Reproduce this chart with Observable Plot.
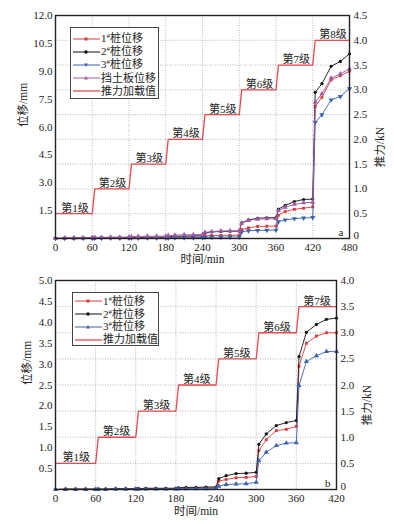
<!DOCTYPE html>
<html><head><meta charset="utf-8">
<script src="https://cdn.jsdelivr.net/npm/d3@7"></script>
<script src="https://cdn.jsdelivr.net/npm/@observablehq/plot@0.6"></script>
<style>
body{margin:0;background:#fff;font-family:"Liberation Serif","Noto Sans CJK SC",serif;color:#222;}
#wrap{position:relative;width:394px;height:524px;overflow:hidden;}
#wrap svg{display:block;}
.legend{position:absolute;border:1px solid #444;background:#fff;font-size:11px;line-height:1;box-sizing:border-box;}
.legend .row{display:flex;align-items:center;white-space:nowrap;}
.legend svg{flex:none;margin-right:1px;}
.legend sup{font-size:7px;vertical-align:4px;}
</style></head><body><div id="wrap"></div>
<script>
// ---------- Panel a data ----------
const timesA = [0,15,30,45,60, 64,75,90,105,120, 124,135,150,165,180, 184,195,210,225,240, 244,255,270,285,300, 304,315,330,345,360, 364,375,390,405,420, 424,435,450,465,480];
const pile1A = [0,0.01,0.01,0.02,0.02, 0.02,0.03,0.03,0.03,0.03, 0.04,0.04,0.05,0.05,0.05, 0.06,0.07,0.08,0.08,0.08, 0.14,0.16,0.17,0.17,0.18, 0.48,0.57,0.65,0.66,0.67, 1.25,1.45,1.57,1.63,1.7, 7.1,7.6,8.54,8.76,9.0];
const pile2A = [0,0.02,0.02,0.03,0.03, 0.04,0.04,0.05,0.05,0.05, 0.06,0.07,0.07,0.08,0.08, 0.1,0.12,0.13,0.14,0.15, 0.3,0.35,0.38,0.39,0.4, 0.84,1.0,1.09,1.11,1.12, 1.58,1.78,1.99,2.1,2.12, 7.87,8.33,9.27,9.53,9.94];
const pile3A = [0,0.01,0.01,0.01,0.01, 0.01,0.01,0.02,0.02,0.02, 0.02,0.02,0.03,0.03,0.03, 0.03,0.04,0.04,0.04,0.05, 0.06,0.07,0.07,0.08,0.08, 0.35,0.42,0.43,0.44,0.45, 0.9,1.0,1.07,1.1,1.13, 6.24,6.66,7.46,7.64,8.06];
const wallA  = [0,0.03,0.04,0.04,0.05, 0.06,0.06,0.07,0.07,0.08, 0.1,0.11,0.12,0.12,0.13, 0.16,0.18,0.2,0.21,0.22, 0.33,0.37,0.4,0.41,0.42, 0.82,0.97,1.04,1.06,1.07, 1.5,1.68,1.84,1.92,1.95, 7.34,7.79,8.63,8.86,9.13];
const forceTA = [0,60,64,120,124,180,184,240,244,300,304,360,364,420,424,480];
const forceVA = [0.5,0.5,1,1,1.5,1.5,2,2,2.5,2.5,3,3,3.5,3.5,4,4];
const stageNamesA = ["第1级","第2级","第3级","第4级","第5级","第6级","第7级","第8级"];
const stageTA = [32,93,153,213,273,333,393,453];
const stageFA = [0.5,1,1.5,2,2.5,3,3.5,4];
const xTicksA = [0,60,120,180,240,300,360,420,480];
const yTicksA = [1.5,3,4.5,6,7.5,9,10.5,12];
const fTicksA = [0,0.5,1,1.5,2,2.5,3,3.5,4,4.5];

// ---------- Panel b data ----------
const timesB = [0,15,30,45,60, 64,75,90,105,120, 124,135,150,165,180, 184,195,210,225,240, 244,255,270,285,300, 304,315,330,345,360, 364,375,390,405,420];
const pile1B = [0,0.01,0.01,0.01,0.01, 0.01,0.01,0.01,0.01,0.01, 0.02,0.02,0.02,0.02,0.02, 0.03,0.03,0.04,0.04,0.04, 0.2,0.24,0.28,0.29,0.31, 0.93,1.19,1.41,1.44,1.51, 2.95,3.5,3.67,3.75,3.75];
const pile2B = [0,0.01,0.01,0.01,0.01, 0.01,0.01,0.02,0.02,0.02, 0.02,0.03,0.03,0.03,0.03, 0.04,0.05,0.05,0.06,0.06, 0.26,0.33,0.38,0.39,0.41, 1.08,1.33,1.53,1.6,1.65, 3.18,3.76,3.95,4.07,4.1];
const pile3B = [0,0,0,0,0, 0,0,0.01,0.01,0.01, 0.01,0.01,0.01,0.01,0.01, 0.02,0.02,0.02,0.02,0.03, 0.08,0.12,0.13,0.14,0.17, 0.69,0.89,1.05,1.11,1.12, 2.49,3.06,3.2,3.3,3.3];
const forceTB = [0,60,64,120,124,180,184,240,244,300,304,360,364,420];
const forceVB = [0.5,0.5,1,1,1.5,1.5,2,2,2.5,2.5,3,3,3.5,3.5];
const stageNamesB = ["第1级","第2级","第3级","第4级","第5级","第6级","第7级"];
const stageTB = [31,91,151,211,271,331,391];
const stageFB = [0.5,1,1.5,2,2.5,3,3.5];
const xTicksB = [0,60,120,180,240,300,360,420];
const yTicksB = [0.5,1,1.5,2,2.5,3,3.5,4,4.5,5];
const fTicksB = [0,0.5,1,1.5,2,2.5,3,3.5,4];

const legendNames = ["1#桩位移","2#桩位移","3#桩位移","挡土板位移","推力加载值"];
const C = {red:"#e0383a", black:"#111", blue:"#3b62b0", purple:"#a45aa8", force:"#e84a50"};

function fmt(v){ const r = Math.round(v*10)/10; return r===0 ? "0" : r.toFixed(1); }

function drawPanel(cfg){
  const k = cfg.yMax / cfg.fMax;
  const force = cfg.forceT.map((t,i)=>({t, f: cfg.forceV[i]*k}));
  const stages = cfg.stageNames.map((n,i)=>({n, t: cfg.stageT[i], f: cfg.stageF[i]*k}));
  const rightTicks = cfg.fTicks.map(f=>f*k);
  const seriesMarks = cfg.series.flatMap(s=>{
    const d = s.values.map((v,i)=>({t: cfg.times[i], v}));
    return [
      Plot.line(d, {x:"t", y:"v", stroke:s.color, strokeWidth:0.9}),
      Plot.dot(d, {x:"t", y:"v", fill:s.color, stroke:"none", r:s.r||1.7, symbol:s.symbol, rotate:s.rotate||0})
    ];
  });
  return Plot.plot({
    width:394, height:cfg.height,
    marginLeft:55, marginRight:cfg.marginRight, marginTop:cfg.marginTop, marginBottom:cfg.marginBottom,
    x:{domain:[0,cfg.xMax]}, y:{domain:[0,cfg.yMax]},
    style:{fontFamily:'"Liberation Serif","Noto Sans CJK SC",serif', fontSize:"11px", color:"#222", background:"#fff", overflow:"visible"},
    marks:[
      Plot.ruleX(cfg.xTicks.filter(x=>x>0 && x<cfg.xMax), {stroke:"#999", strokeDasharray:"1,1.5", strokeWidth:0.7}),
      Plot.ruleY(rightTicks.filter(y=>y>0 && y<cfg.yMax-1e-9), {stroke:"#999", strokeDasharray:"1,1.5", strokeWidth:0.7}),
      Plot.line(force, {x:"t", y:"f", stroke:C.force, strokeWidth:1.3}),
      ...seriesMarks,
      Plot.text(stages, {x:"t", y:"f", text:"n", dy:-2, lineAnchor:"bottom", fontSize:11, fill:"#222"}),
      Plot.frame({stroke:"#222", strokeWidth:1.4}),
      Plot.axisX(cfg.xTicks, {tickSize:0, tickPadding:5, tickFormat:d=>String(d), label:null, fontSize:11}),
      Plot.axisY(cfg.yTicks, {anchor:"left", tickSize:0, tickPadding:3, tickFormat:d=>d.toFixed(1), label:null, fontSize:11}),
      Plot.axisY(rightTicks.filter(d=>d>0), {anchor:"right", tickSize:0, tickPadding:4, tickFormat:d=>fmt(d/k), label:null, fontSize:11}),
      Plot.axisY([0], {anchor:"right", tickSize:0, tickPadding:4, dy:-3, tickFormat:()=>"0", label:null, fontSize:11}),
      Plot.text(["位移/mm"], {frameAnchor:"left", rotate:-90, dx:cfg.yLabelDx, text:d=>d, fontSize:11.5}),
      Plot.text(["推力/kN"], {frameAnchor:"right", rotate:-90, dx:31, text:d=>d, fontSize:11.5}),
      Plot.text(["时间/min"], {frameAnchor:"bottom", dy:cfg.xLabelDy, text:d=>d, fontSize:11.5}),
      Plot.text([cfg.letter], {frameAnchor:"bottom-right", dx:-6, dy:-3, textAnchor:"end", lineAnchor:"bottom", text:d=>d, fontSize:11})
    ]
  });
}

function swatch(color, symbol){
  let m = "";
  if(symbol==="square") m = `<rect x="11.5" y="3.5" width="3" height="3" fill="${color}"/>`;
  else if(symbol==="circle") m = `<circle cx="13" cy="5" r="1.7" fill="${color}"/>`;
  else if(symbol==="tri-up") m = `<path d="M13,3 L15,6.5 L11,6.5Z" fill="${color}"/>`;
  else if(symbol==="tri-down") m = `<path d="M13,7 L15,3.5 L11,3.5Z" fill="${color}"/>`;
  return `<svg width="27" height="10"><line x1="0" y1="5" x2="27" y2="5" stroke="${color}" stroke-width="${symbol?1:1.3}"/>${m}</svg>`;
}
function legend(parent, items, left, top, width, height, rowH, padTop){
  const div = document.createElement("div");
  div.className = "legend";
  Object.assign(div.style, {left:left+"px", top:top+"px", width:width+"px", height:height+"px", paddingTop:padTop+"px", paddingLeft:"2px"});
  div.innerHTML = items.map(it=>{
    const lbl = it.name.replace("#","<sup>#</sup>");
    return `<div class="row" style="height:${rowH}px">${swatch(it.color,it.symbol)}<span>${lbl}</span></div>`;
  }).join("");
  parent.appendChild(div);
}

const wrap = document.getElementById("wrap");
const pa = drawPanel({
  times:timesA, xMax:480, yMax:12, fMax:4.5, height:268, marginTop:15, marginBottom:30, marginRight:45,
  series:[
    {values:pile1A, color:C.red, symbol:"square", r:1.6},
    {values:pile2A, color:C.black, symbol:"circle", r:1.6},
    {values:pile3A, color:C.blue, symbol:"triangle", rotate:180, r:1.9},
    {values:wallA, color:C.purple, symbol:"triangle", r:1.9}
  ],
  forceT:forceTA, forceV:forceVA, stageNames:stageNamesA, stageT:stageTA, stageF:stageFA,
  xTicks:xTicksA, yTicks:yTicksA, fTicks:fTicksA, letter:"a", yLabelDx:-32, xLabelDy:24
});
wrap.appendChild(pa);
const pb = drawPanel({
  times:timesB, xMax:420, yMax:5, fMax:4, height:256, marginTop:12, marginBottom:35, marginRight:58,
  series:[
    {values:pile1B, color:C.red, symbol:"square", r:1.6},
    {values:pile2B, color:C.black, symbol:"circle", r:1.6},
    {values:pile3B, color:C.blue, symbol:"triangle", r:1.9}
  ],
  forceT:forceTB, forceV:forceVB, stageNames:stageNamesB, stageT:stageTB, stageF:stageFB,
  xTicks:xTicksB, yTicks:yTicksB, fTicks:fTicksB, letter:"b", yLabelDx:-28, xLabelDy:25
});
wrap.appendChild(pb);

legend(wrap, [
  {name:legendNames[0], color:C.red, symbol:"square"},
  {name:legendNames[1], color:C.black, symbol:"circle"},
  {name:legendNames[2], color:C.blue, symbol:"tri-down"},
  {name:legendNames[3], color:C.purple, symbol:"tri-up"},
  {name:legendNames[4], color:C.force, symbol:null}
], 70, 27, 89, 72, 13.2, 4);
legend(wrap, [
  {name:legendNames[0], color:C.red, symbol:"square"},
  {name:legendNames[1], color:C.black, symbol:"circle"},
  {name:legendNames[2], color:C.blue, symbol:"tri-up"},
  {name:legendNames[4], color:C.force, symbol:null}
], 72, 292, 87, 54, 12.8, 2);
</script>
</body></html>
